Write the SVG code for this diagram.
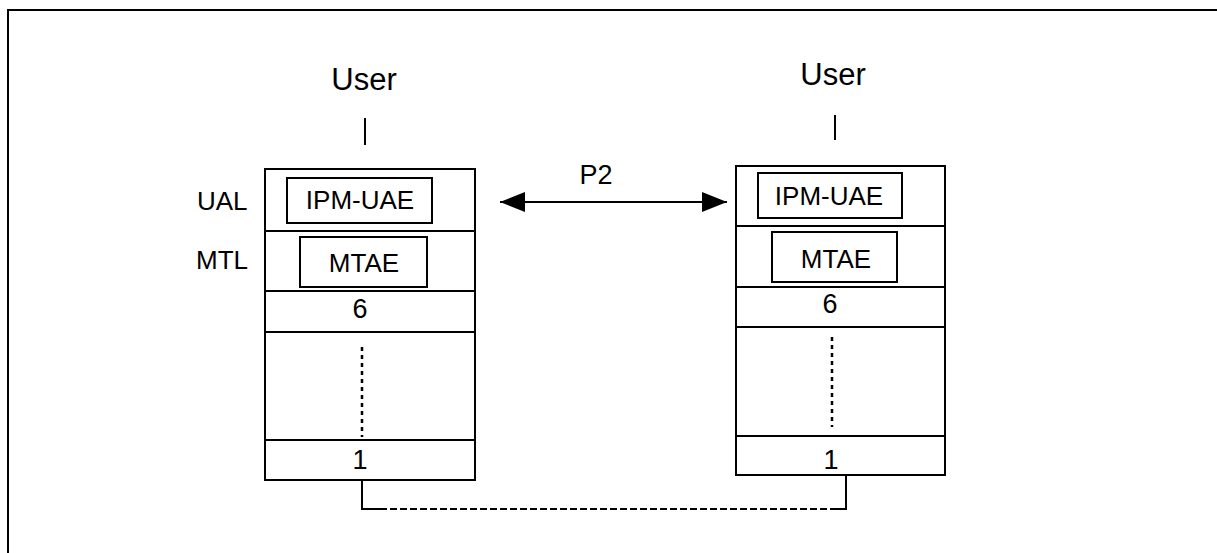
<svg xmlns="http://www.w3.org/2000/svg" width="1217" height="553" viewBox="0 0 1217 553">
<style>
text{font-family:"Liberation Sans",Arial,sans-serif;fill:#000;}
.t{font-size:26px;text-anchor:middle;}
.n{font-size:27px;text-anchor:middle;}
.lbl{font-size:26px;}
.user{font-size:31px;text-anchor:middle;}
.box{fill:none;stroke:#000;stroke-width:2;}
.ln{stroke:#000;stroke-width:2;fill:none;}
.dot{stroke:#000;stroke-width:2.5;stroke-dasharray:4 4;fill:none;}
.dash{stroke:#000;stroke-width:2;stroke-dasharray:7 3;fill:none;}
</style>
<defs>
<marker id="ah" viewBox="0 0 25 20" refX="25" refY="10" markerWidth="25" markerHeight="20" markerUnits="userSpaceOnUse" orient="auto-start-reverse">
<path d="M0,0 L25,10 L0,20 Z" fill="#000"/>
</marker>
</defs>
<g id="frame"><path class="ln" d="M8,553 V10 H1217" stroke-width="2.5"/></g>
<g id="labels">
<text class="lbl" x="197" y="210">UAL</text>
<text class="lbl" x="196" y="269">MTL</text>
<text class="n" x="596" y="184">P2</text>
</g>
<g id="stackLeft">
<text class="user" x="364" y="90">User</text>
<line class="ln" x1="365" y1="118" x2="365" y2="145"/>
<rect class="box" x="265" y="169" width="210" height="311"/>
<line class="ln" x1="265" y1="231" x2="475" y2="231"/>
<line class="ln" x1="265" y1="291" x2="475" y2="291"/>
<line class="ln" x1="265" y1="332" x2="475" y2="332"/>
<line class="ln" x1="265" y1="440" x2="475" y2="440"/>
<g id="ipmuaeLeft"><rect class="box" x="287" y="178" width="145" height="45"/><text class="t" x="360" y="209">IPM-UAE</text></g>
<g id="mtaeLeft"><rect class="box" x="300" y="237" width="127" height="50"/><text class="t" x="364" y="272">MTAE</text></g>
<text class="n" x="360" y="318">6</text>
<line class="dot" x1="362" y1="347" x2="362" y2="437"/>
<text class="n" x="360" y="469">1</text>
</g>
<g id="stackRight">
<text class="user" x="833" y="85">User</text>
<line class="ln" x1="835" y1="115" x2="835" y2="140"/>
<rect class="box" x="736" y="166" width="209" height="309"/>
<line class="ln" x1="736" y1="226" x2="945" y2="226"/>
<line class="ln" x1="736" y1="287" x2="945" y2="287"/>
<line class="ln" x1="736" y1="327" x2="945" y2="327"/>
<line class="ln" x1="736" y1="436" x2="945" y2="436"/>
<g id="ipmuaeRight"><rect class="box" x="758" y="173" width="144" height="45"/><text class="t" x="829" y="205">IPM-UAE</text></g>
<g id="mtaeRight"><rect class="box" x="772" y="232" width="125" height="50"/><text class="t" x="836" y="268">MTAE</text></g>
<text class="n" x="830" y="313">6</text>
<line class="dot" x1="832" y1="337" x2="832" y2="427"/>
<text class="n" x="831" y="469">1</text>
</g>
<g id="connectors">
<line class="ln" x1="500" y1="202" x2="727" y2="202" marker-start="url(#ah)" marker-end="url(#ah)"/>
<path class="ln" d="M362,480 V509 H380"/>
<path class="dash" d="M380,509 H830"/>
<path class="ln" d="M830,509 H846 V475"/>
</g>
</svg>
